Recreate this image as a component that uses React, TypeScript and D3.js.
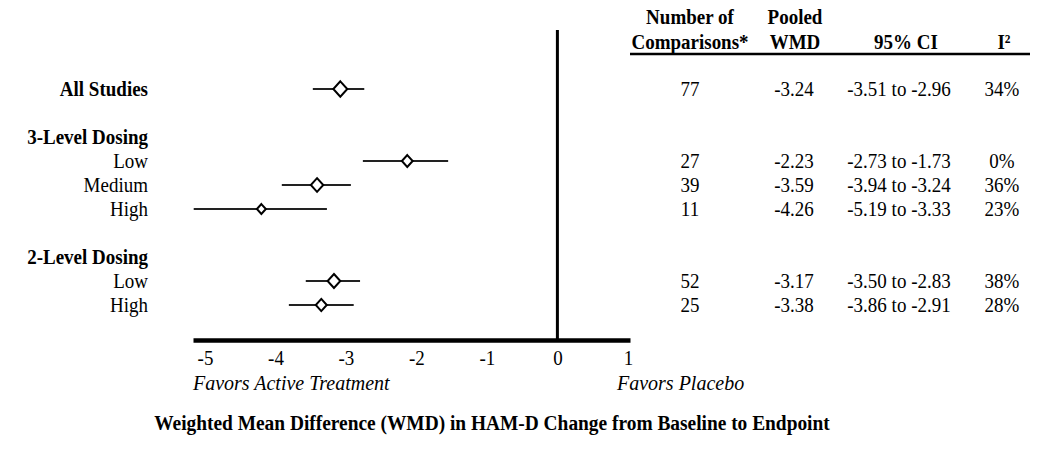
import React, { useEffect, useRef } from 'react';
import * as d3 from 'd3';

// one entry per row slot (blank strings are spacer rows)
const rowLabels = ['All Studies', '', '3-Level Dosing', 'Low', 'Medium', 'High', '', '2-Level Dosing', 'Low', 'High'];
const boldLabels = ['All Studies', '3-Level Dosing', '2-Level Dosing'];

// tabulated values
const comparisons = [77, null, null, 27, 39, 11, null, null, 52, 25];
const pooledWmd = [-3.24, null, null, -2.23, -3.59, -4.26, null, null, -3.17, -3.38];
const ciLow = [-3.51, null, null, -2.73, -3.94, -5.19, null, null, -3.50, -3.86];
const ciHigh = [-2.96, null, null, -1.73, -3.24, -3.33, null, null, -2.83, -2.91];
const iSquared = [34, null, null, 0, 36, 23, null, null, 38, 28];

// estimates and intervals as drawn in the plot (read off the marks)
const plotMid = [-3.08, null, null, -2.13, -3.41, -4.2, null, null, -3.17, -3.35];
const plotLow = [-3.47, null, null, -2.76, -3.91, -5.16, null, null, -3.57, -3.81];
const plotHigh = [-2.74, null, null, -1.55, -2.93, -3.27, null, null, -2.8, -2.89];

const xTicks = [-5, -4, -3, -2, -1, 0, 1];

const FONT = '"Liberation Serif", "Times New Roman", serif';
const STRETCH = 1.1; // the source type is slightly taller than Times

const App = () => {
  const svgRef = useRef(null);
  const width = 1050;
  const height = 452;

  useEffect(() => {
    const svg = d3.select(svgRef.current);
    svg.selectAll('*').remove();
    svg.attr('width', width).attr('height', height)
      .style('font-family', FONT);

    // text placed through a transform so it can be stretched a little
    const label = (g, str, px, py, opts = {}) => g.append('text')
      .attr('transform', `translate(${px},${py}) scale(1,${STRETCH})`)
      .attr('dy', opts.central ? '0.35em' : null)
      .attr('text-anchor', opts.anchor || 'start')
      .attr('font-size', opts.size || 19)
      .attr('font-weight', opts.bold ? 'bold' : 'normal')
      .attr('font-style', opts.italic ? 'italic' : 'normal')
      .text(str);

    const x = d3.scaleLinear().domain([-5.17, 1.03]).range([193, 630]);
    const y = d3.scaleLinear().domain([0, rowLabels.length - 1]).range([89, 305]);
    const axisY = 340;

    // marker size from tabulated precision
    const precision = rowLabels.map((_, i) => ciLow[i] == null ? null : 1 / (ciHigh[i] - ciLow[i]));
    const size = d3.scaleLinear()
      .domain(d3.extent(precision.filter(p => p != null)))
      .range([4.5, 7]);

    // row labels
    const labels = svg.append('g');
    rowLabels.forEach((d, i) => {
      if (!d) return;
      label(labels, d, 148, y(i), { anchor: 'end', central: true, bold: boldLabels.includes(d) });
    });

    // zero line
    svg.append('line')
      .attr('x1', x(0)).attr('x2', x(0))
      .attr('y1', 30).attr('y2', axisY)
      .attr('stroke', '#000')
      .attr('stroke-width', 3);

    // x axis
    const axis = svg.append('g')
      .attr('transform', `translate(0, ${axisY})`)
      .call(d3.axisBottom(x).tickValues(xTicks).tickSize(0).tickPadding(9).tickFormat(d3.format('d')));
    axis.select('.domain').attr('stroke', '#000').attr('stroke-width', 4.5);
    axis.selectAll('text')
      .attr('font-family', FONT)
      .attr('font-size', 19)
      .attr('fill', '#000')
      .attr('transform', `scale(1,${STRETCH})`)
      .text(d => String(d).replace('−', '-'));

    // CI lines and diamonds
    const rows = rowLabels.map((_, i) => i).filter(i => plotMid[i] != null);
    const marks = svg.append('g');
    marks.selectAll('line')
      .data(rows)
      .enter()
      .append('line')
      .attr('x1', i => x(plotLow[i]))
      .attr('x2', i => x(plotHigh[i]))
      .attr('y1', i => y(i))
      .attr('y2', i => y(i))
      .attr('stroke', '#222')
      .attr('stroke-width', 2);
    marks.selectAll('path')
      .data(rows)
      .enter()
      .append('path')
      .attr('d', i => {
        const cx = x(plotMid[i]);
        const cy = y(i);
        const w = size(precision[i]);
        const h = w * 1.1;
        return `M${cx},${cy - h}L${cx + w},${cy}L${cx},${cy + h}L${cx - w},${cy}Z`;
      })
      .attr('fill', '#fff')
      .attr('stroke', '#000')
      .attr('stroke-width', 2);

    // table
    const columns = [
      { head: ['Number of', 'Comparisons*'], hx: 690, vx: 690, value: i => String(comparisons[i]) },
      { head: ['Pooled', 'WMD'], hx: 795, vx: 794, value: i => pooledWmd[i].toFixed(2) },
      { head: ['', '95% CI'], hx: 906, vx: 899, value: i => `${ciLow[i].toFixed(2)} to ${ciHigh[i].toFixed(2)}` },
      { head: ['', 'I²'], hx: 1004, vx: 1002, value: i => `${iSquared[i]}%` }
    ];
    const table = svg.append('g');
    columns.forEach(col => {
      col.head.forEach((line, k) => {
        if (line) label(table, line, col.hx, 24 + k * 25, { anchor: 'middle', bold: true });
      });
      rows.forEach(i => {
        label(table, col.value(i), col.vx, y(i), { anchor: 'middle', central: true });
      });
    });
    table.append('line')
      .attr('x1', 630).attr('x2', 1030)
      .attr('y1', 54).attr('y2', 54)
      .attr('stroke', '#000')
      .attr('stroke-width', 2.5);

    // direction labels and title
    label(svg, 'Favors Active Treatment', 193, 390, { italic: true, size: 20 });
    label(svg, 'Favors Placebo', 617, 390, { italic: true, size: 20 });
    label(svg, 'Weighted Mean Difference (WMD) in HAM-D Change from Baseline to Endpoint', 492, 430,
      { anchor: 'middle', bold: true, size: 19.4 });
  }, []);

  return (
    <svg ref={svgRef} style={{ position: 'absolute', left: 0, top: 0, background: '#fff' }}></svg>
  );
};

export default App;
